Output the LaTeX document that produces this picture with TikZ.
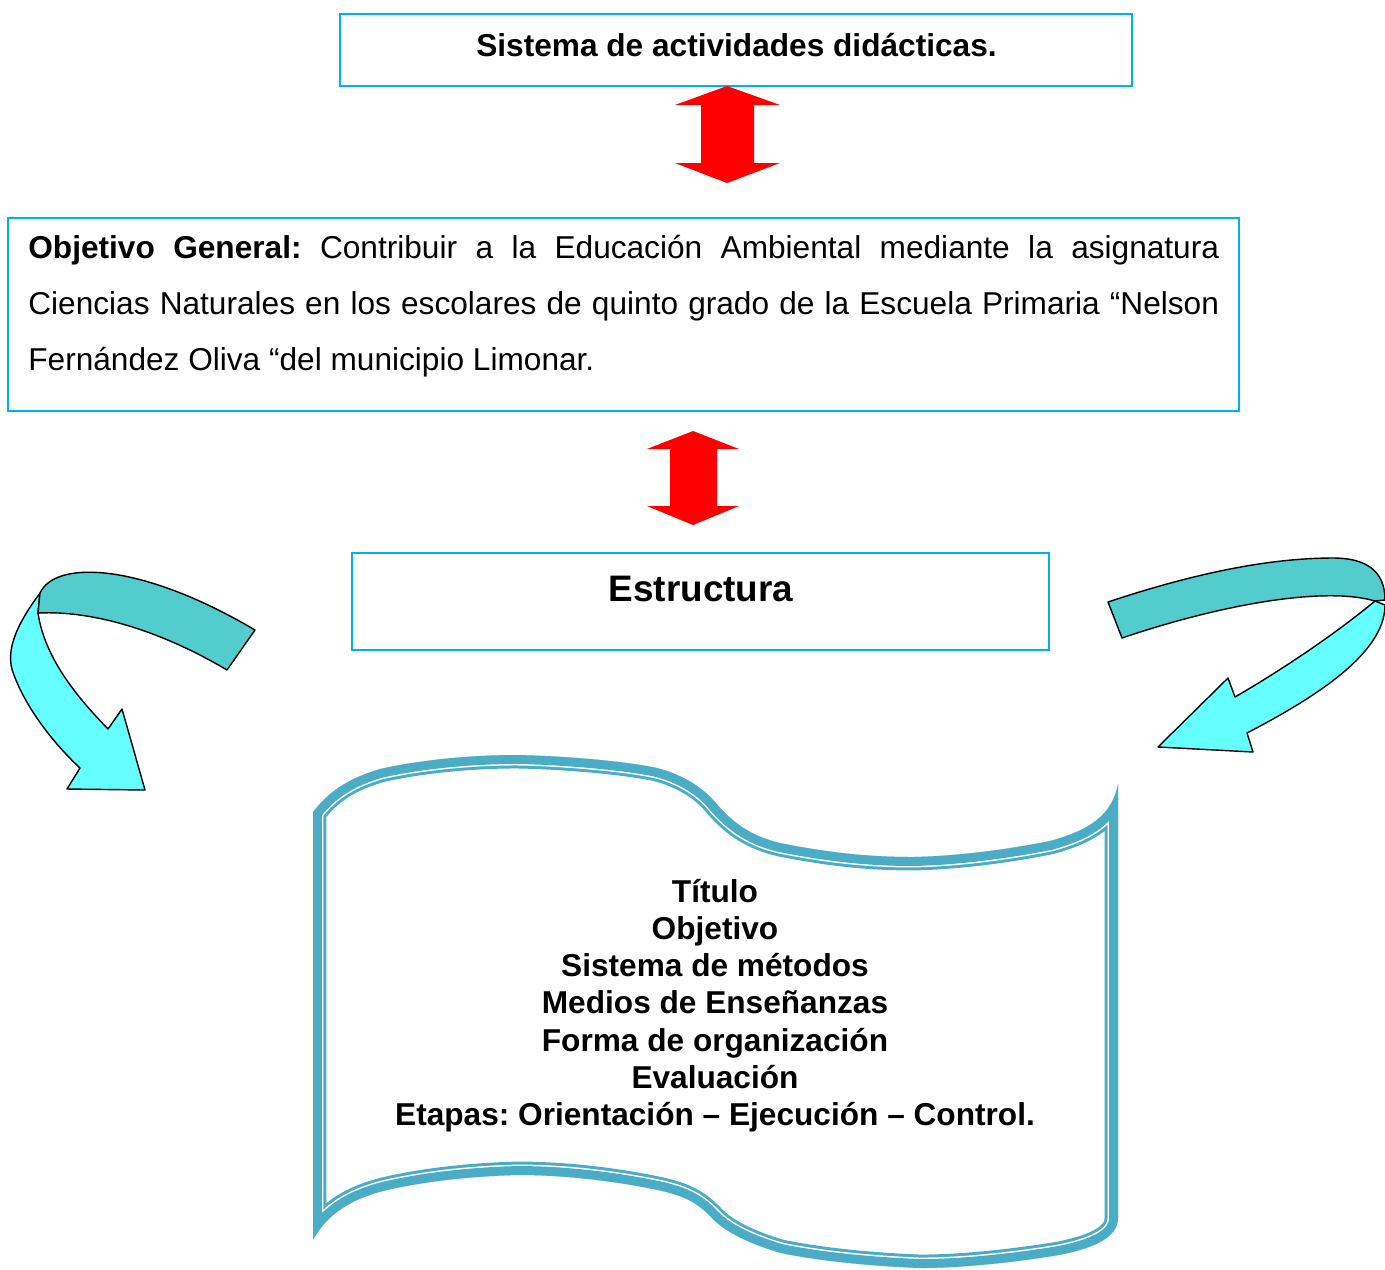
\documentclass[tikz,border=0pt]{standalone}
\usepackage{fontspec}
\setmainfont{Liberation Sans}
\frenchspacing
\definecolor{bordecaja}{HTML}{00B0F0}
\definecolor{rojoflecha}{HTML}{FF0000}
\definecolor{azulrollo}{HTML}{4BACC6}
\definecolor{tealoscuro}{HTML}{52CCCC}
\definecolor{cianclaro}{HTML}{66FFFF}
\tikzset{
  caja/.style={rectangle, draw=bordecaja, line width=1.1pt, inner sep=0pt},
  negrita/.style={font=\fontsize{18}{21.2}\selectfont\bfseries, inner sep=0pt},
  titulo/.style={font=\fontsize{21}{25}\selectfont\bfseries, inner sep=0pt},
  parrafo/.style={font=\fontsize{18}{31.9}\selectfont, inner sep=0pt,
    text width=23.82cm, align=justify},
  flecha/.style={fill=rojoflecha},
  bandaoscura/.style={fill=tealoscuro, draw=black, line width=0.8pt, line join=round},
  bandaclara/.style={fill=cianclaro, draw=black, line width=0.8pt, line join=round}
}
% contorno del rollo (borde exterior)
\newcommand{\contornorollo}{(313,1240) -- (313,812)
  .. controls (330,790) and (350,778) .. (380,769)
  .. controls (420,760) and (470,755) .. (517,755)
  .. controls (570,756) and (630,762) .. (657,768)
  .. controls (685,775) and (705,790) .. (715,802)
  .. controls (735,826) and (755,837) .. (780,843)
  .. controls (830,853) and (870,857) .. (913,857)
  .. controls (960,856) and (1010,849) .. (1050,841)
  .. controls (1090,830) and (1112,815) .. (1118,784)
  -- (1118,1218)
  .. controls (1118,1235) and (1100,1247) .. (1059,1255)
  .. controls (1010,1263) and (960,1268) .. (920,1268)
  .. controls (870,1266) and (820,1261) .. (781,1253)
  .. controls (750,1244) and (725,1232) .. (712,1218)
  .. controls (695,1200) and (680,1195) .. (658,1190)
  .. controls (610,1180) and (560,1175) .. (519,1175)
  .. controls (470,1176) and (420,1182) .. (383,1191)
  .. controls (345,1201) and (325,1218) .. (313,1240) -- cycle}

\begin{document}
\begin{tikzpicture}[x=0.02cm, y=-0.02cm]
    \useasboundingbox (0,0) rectangle (1385,1269);
    
    % Cajas
    \node[caja, minimum width=15.84cm, minimum height=1.44cm] (sistema) at (736,50) {};
    \node[negrita, anchor=base] (sistematxt) at (736.5,56) {Sistema de actividades didácticas.};
    
    \node[caja, minimum width=24.62cm, minimum height=3.86cm] (objetivo) at (623.5,314.5) {};
    \node[parrafo, anchor=north west] (objetivotxt) at (28,235)
    {\textbf{Objetivo General:} Contribuir a la Educación Ambiental mediante la asignatura\linebreak
    Ciencias Naturales en los escolares de quinto grado de la Escuela Primaria “Nelson\linebreak
    Fernández Oliva “del municipio Limonar.};
    
    \node[caja, minimum width=13.94cm, minimum height=1.94cm] (estructura) at (700.5,601.5) {};
    \node[titulo, anchor=base] (estructuratxt) at (701,601) {Estructura};
    
    % Flechas rojas
    \fill[flecha] (727,86) -- (780,105) -- (754,105) -- (754,163) -- (780,163) -- (727,183)
    -- (675,163) -- (701,163) -- (701,105) -- (675,105) -- cycle;
    \fill[flecha] (693,431) -- (739,449) -- (717,449) -- (717,506) -- (739,506) -- (693,525)
    -- (647,506) -- (670,506) -- (670,449) -- (647,449) -- cycle;
    
    % Flecha curva izquierda
    \filldraw[bandaclara] (40,593) .. controls (20,620) and (3,650) .. (14,675)
    .. controls (25,705) and (50,740) .. (80,768) -- (67,789) -- (145,790) -- (122,709)
    -- (108,729) .. controls (80,700) and (45,660) .. (38,613) -- cycle;
    \filldraw[bandaoscura] (255,630) -- (227,670) .. controls (170,636) and (100,610) .. (38,613)
    -- (40,593) .. controls (55,560) and (140,562) .. (255,630) -- cycle;
    
    % Flecha curva derecha
    \filldraw[bandaclara] (1375,601) .. controls (1340,630) and (1290,665) .. (1235,697)
    -- (1228,678) -- (1158,747) -- (1253,752) -- (1247,733)
    .. controls (1310,700) and (1385,655) .. (1385,605) -- cycle;
    \filldraw[bandaoscura] (1108,602) -- (1122,638) .. controls (1210,608) and (1320,585) .. (1375,601)
    -- (1385,600) .. controls (1385,570) and (1365,558) .. (1333,558)
    .. controls (1260,558) and (1180,578) .. (1108,602) -- cycle;
    
    % Rollo con linea doble
    \begin{scope}
    \clip \contornorollo;
    \draw[azulrollo, line width=15.3pt, line join=miter] \contornorollo;
    \draw[white, line width=11.9pt, line join=miter] \contornorollo;
    \draw[azulrollo, line width=10.2pt, line join=miter] \contornorollo;
    \end{scope}
    
    \node[negrita, align=center] (componentes) at (715,1005.5)
    {Título\\Objetivo\\Sistema de métodos\\Medios de Enseñanzas\\Forma de organización\\Evaluación\\Etapas: Orientación – Ejecución – Control.};
    
\end{tikzpicture}
\end{document}
